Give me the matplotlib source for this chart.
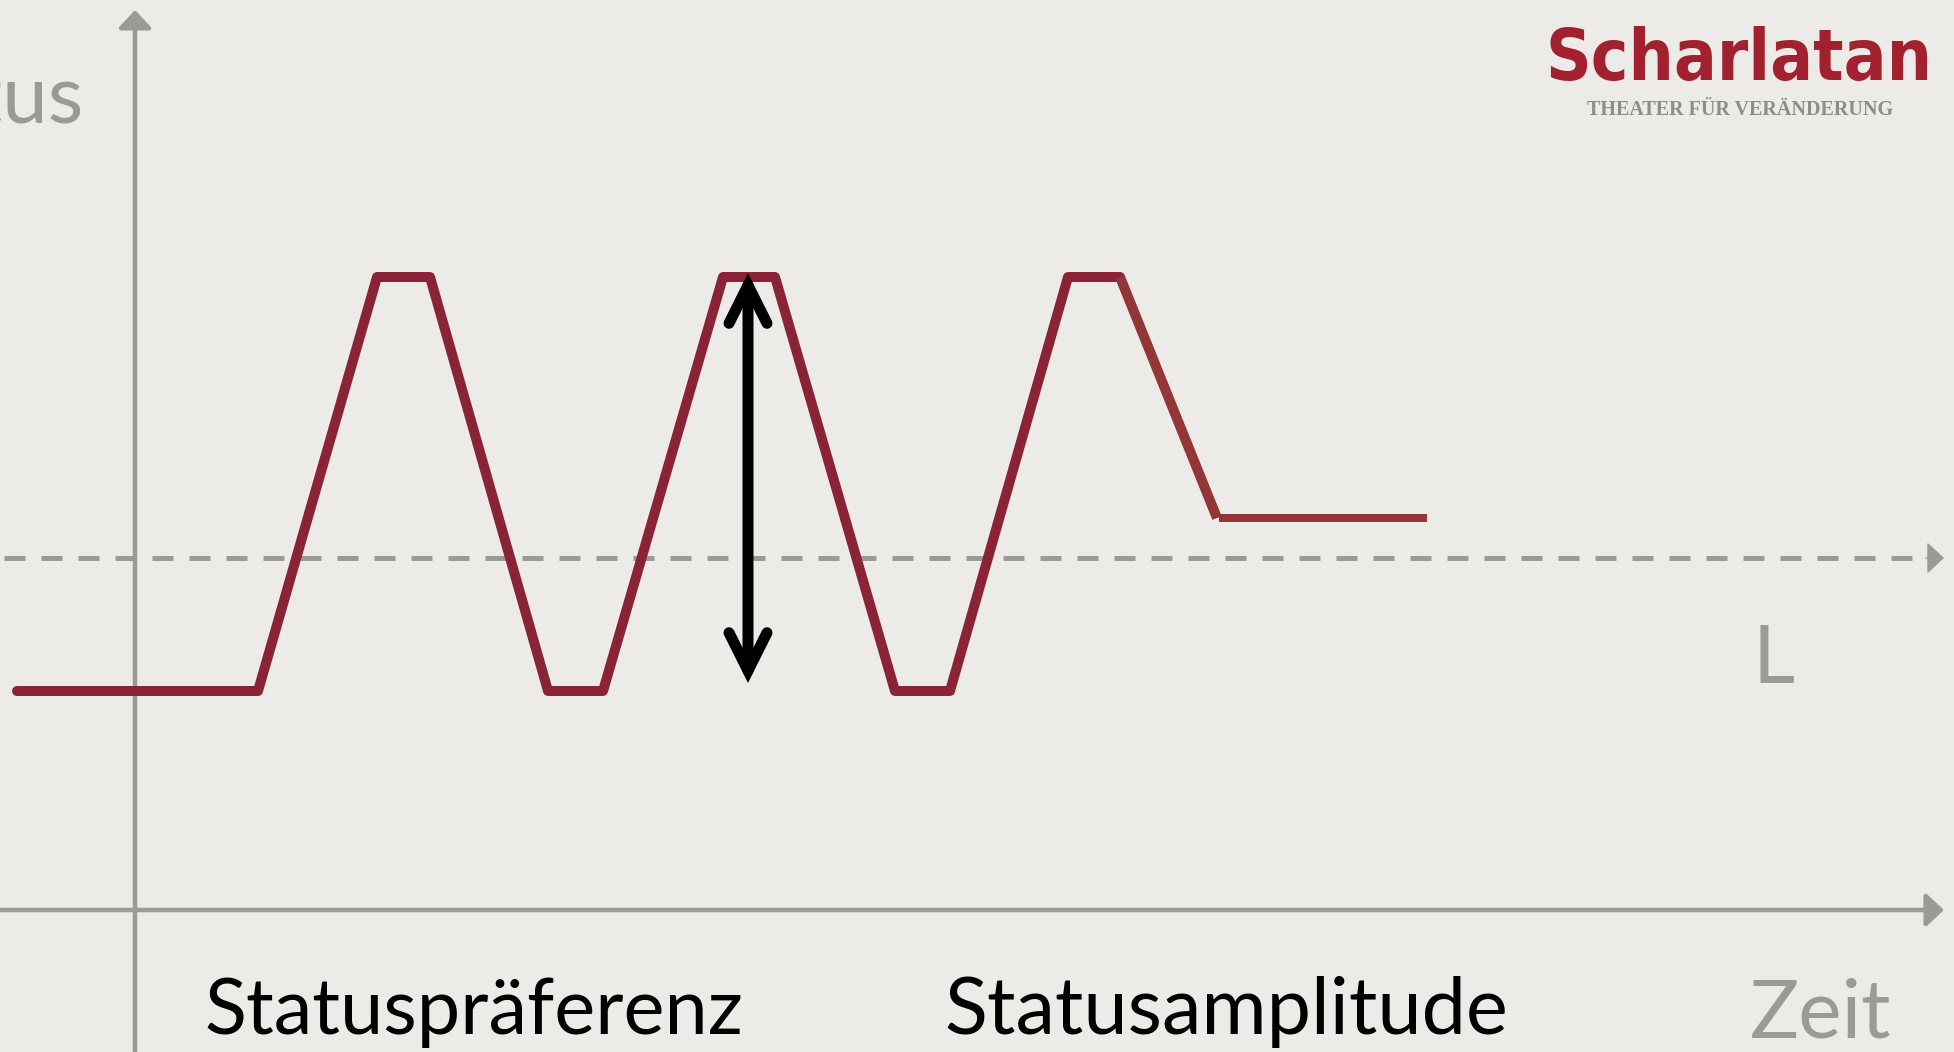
import matplotlib
matplotlib.use("Agg")
import matplotlib.pyplot as plt
from matplotlib.patches import FancyArrowPatch
from matplotlib import font_manager

# ---------------- data (time / status units, origin at axis crossing) -------------
profile_t = [-118, 123, 242, 295, 413, 468, 588, 640, 760, 815, 933, 985]
profile_s = [219, 219, 633, 633, 219, 219, 633, 633, 219, 219, 633, 633]
fall_t = [985, 1082]
fall_s = [633, 392]
tail_t = [1084, 1292]
tail_s = [392, 392]
lage_level = 352          # dashed reference line
amp_t = 613               # position of the amplitude arrow
amp_s = [227, 637]        # low / high end of the amplitude arrow

y_label = "Status"
x_label = "Zeit"
level_label = "L"
caption_left = "Statuspräferenz"
caption_right = "Statusamplitude"
logo_title = "Scharlatan"
logo_sub = "THEATER FÜR VERÄNDERUNG"

# ---------------- styling -------------
BG = "#ECEBE7"
GRAY = "#9B9A95"
RED = "#8B2336"
RED2 = "#943638"
LOGO_RED = "#A3202F"
BODY_FONT = ["Lato", "DejaVu Sans"]

# pick a condensed bold font for the logo if one is installed
logo_prop = None
for f in font_manager.fontManager.ttflist:
    name = f.name.lower()
    fn = f.fname.lower()
    if ("condensed" in name or "condensed" in fn or "narrow" in name or "narrow" in fn) \
            and f.weight in (700, "bold") and "italic" not in fn and "oblique" not in fn \
            and "semi" not in fn and "extra" not in fn:
        logo_prop = font_manager.FontProperties(fname=f.fname)
        break
if logo_prop is None:
    logo_prop = font_manager.FontProperties(family="DejaVu Sans", weight="bold")

W, H = 1954, 1052
X0, Y0 = 135, 910          # pixel position of axis origin

fig = plt.figure(figsize=(W / 100, H / 100), dpi=100, facecolor=BG)
ax = fig.add_axes([0, 0, 1, 1])
ax.set_facecolor(BG)
ax.set_xlim(-X0, W - X0)
ax.set_ylim(Y0 - H, Y0)
ax.axis("off")

PX = 0.72  # points per pixel at dpi 100

# axes with arrows
ax.add_patch(FancyArrowPatch((0, Y0 - H), (0, Y0 - 10),
                             arrowstyle=f"-|>,head_length={15*PX},head_width={14*PX}",
                             mutation_scale=1, lw=4.5 * PX, color=GRAY,
                             shrinkA=0, shrinkB=0, zorder=1))
ax.add_patch(FancyArrowPatch((-X0, 0), (1946 - X0 - 2, 0),
                             arrowstyle=f"-|>,head_length={15*PX},head_width={14*PX}",
                             mutation_scale=1, lw=4.5 * PX, color=GRAY,
                             shrinkA=0, shrinkB=0, zorder=1))
# dashed level line
ax.plot([-X0 + 4, 1946 - X0 - 16], [lage_level, lage_level], color=GRAY,
        lw=5 * PX, linestyle=(0, (4.2, 3.2)), solid_capstyle="butt",
        dash_capstyle="butt", zorder=1)
ax.add_patch(FancyArrowPatch((1946 - X0 - 20, lage_level), (1946 - X0 - 2, lage_level),
                             arrowstyle=f"-|>,head_length={15*PX},head_width={14*PX}",
                             mutation_scale=1, lw=1, color=GRAY,
                             shrinkA=0, shrinkB=0, zorder=1))

# status profile
ax.plot(profile_t, profile_s, color=RED, lw=10 * PX, solid_joinstyle="round",
        solid_capstyle="round", zorder=3)
ax.plot(fall_t, fall_s, color=RED2, lw=10 * PX, solid_capstyle="butt", zorder=3)
ax.plot(tail_t, tail_s, color=RED2, lw=8 * PX, solid_capstyle="butt", zorder=3)

# amplitude arrow
ax.add_patch(FancyArrowPatch((amp_t, amp_s[0]), (amp_t, amp_s[1]),
                             arrowstyle=f"<->,head_length={38*PX},head_width={19*PX}",
                             mutation_scale=1, lw=11 * PX, color="black",
                             shrinkA=0, shrinkB=0, capstyle="round",
                             joinstyle="miter", zorder=5))


def px(x, y):
    return x - X0, Y0 - y


t_zeit = ax.text(*px(1750, 1037), x_label, color=GRAY, family=BODY_FONT,
                 ha="left", va="baseline", fontsize=60)
t_L = ax.text(*px(1752, 683), level_label, color=GRAY, family=BODY_FONT,
              ha="left", va="baseline", fontsize=60)
t_status = ax.text(*px(84, 123), y_label, color=GRAY, family=BODY_FONT,
                   ha="right", va="baseline", fontsize=60)
t_c1 = ax.text(*px(204, 1034), caption_left, color="black", family=BODY_FONT,
               ha="left", va="baseline", fontsize=50)
t_c2 = ax.text(*px(944, 1034), caption_right, color="black", family=BODY_FONT,
               ha="left", va="baseline", fontsize=50)
t_logo = ax.text(*px(1932, 80), logo_title, color=LOGO_RED,
                 fontproperties=logo_prop, ha="right", va="baseline")
t_logo.set_fontsize(50)
t_sub = ax.text(*px(1740, 115), logo_sub, color="#8E8D87",
                family=["Liberation Serif", "DejaVu Serif"], fontweight="bold",
                ha="center", va="baseline", fontsize=14.5)

fig.canvas.draw()
r = fig.canvas.get_renderer()


def fit(t, target_w):
    w = t.get_window_extent(r).width
    t.set_fontsize(t.get_fontsize() * target_w / w)


fit(t_zeit, 142)
fit(t_c1, 538)
fit(t_c2, 563)
fit(t_logo, 387)
t_L.set_fontsize(t_zeit.get_fontsize())
t_status.set_fontsize(t_zeit.get_fontsize())

fig.savefig("out.png", dpi=100, facecolor=BG)
